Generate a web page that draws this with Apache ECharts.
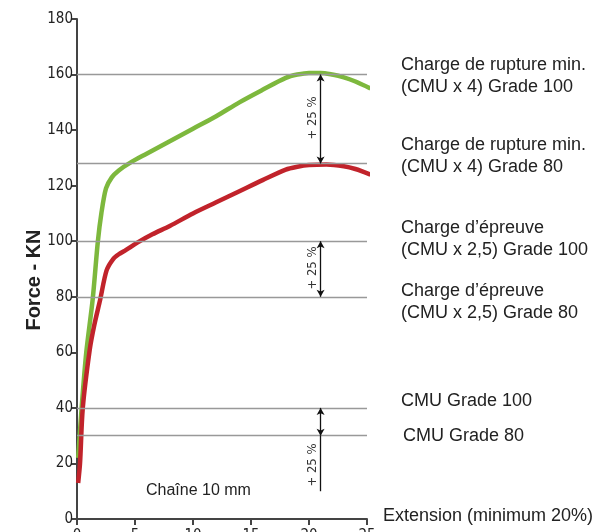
<!DOCTYPE html>
<html><head><meta charset="utf-8">
<script src="https://cdn.jsdelivr.net/npm/echarts@6/dist/echarts.min.js"></script>
<style>html,body{margin:0;padding:0;background:#fff}#c{width:602px;height:532px}</style>
</head><body><div id="c"></div>
<script>
// Extension (%) and force (kN)
const grade100X = [0.1, 0.4, 0.8, 1.35, 1.8, 2.1, 2.5, 3.0, 3.6, 4.6, 6, 8, 10, 12, 14, 16, 18, 19, 20, 21, 22, 23, 24, 25.3];
const grade100Y = [22, 40, 60, 79, 100, 110, 119, 123, 125.5, 128.3, 131.5, 136, 140.5, 145, 150, 154.5, 158.8, 160, 160.6, 160.6, 160, 159, 157.5, 155];
const grade80X = [0.1, 0.26, 0.5, 1.1, 1.5, 2.0, 2.55, 3.1, 3.6, 4.2, 5.2, 6.5, 8, 10, 12, 14, 16, 18, 19, 20, 21.5, 23, 24, 25.3];
const grade80Y = [13, 20, 40, 61, 70, 79, 89.5, 93.5, 95.3, 96.8, 99.5, 102.5, 105.5, 110, 114, 118, 122, 125.8, 126.8, 127.4, 127.6, 127, 126, 124];
const refLevels = [160, 128, 100, 80, 40, 30];
const arrowPairs = [[160, 128], [100, 80], [40, 30]];
const arrowTail = [30, 10];
const arrowX = 21;
const xTicks = [0, 5, 10, 15, 20, 25];
const yTicks = [0, 20, 40, 60, 80, 100, 120, 140, 160, 180];
const rightLabels = [
  'Charge de rupture min.\n(CMU x 4) Grade 100',
  'Charge de rupture min.\n(CMU x 4) Grade 80',
  'Charge d\u2019épreuve\n(CMU x 2,5) Grade 100',
  'Charge d\u2019épreuve\n(CMU x 2,5) Grade 80',
  'CMU Grade 100',
  'CMU Grade 80'
];
const pctLabel = '+ 25 %';

const zip = (a, b) => a.map((v, i) => [v, b[i]]);
const narrow = "'Liberation Sans Narrow', 'DejaVu Sans Condensed', sans-serif";
const sans = "'Liberation Sans', Arial, sans-serif";

const chart = echarts.init(document.getElementById('c'), null, {renderer: 'canvas'});

const labelY = [76, 156, 239, 302, 401, 436];
const graphics = rightLabels.map((t, i) => ({
  type: 'text', left: i === 5 ? 403 : 401, top: labelY[i] - (t.includes('\n') ? 22 : 11),
  style: {text: t, font: '18px ' + sans, fill: '#222', lineHeight: 22}
}));
graphics.push({type: 'text', left: 383, top: 507, style: {text: 'Extension (minimum 20%)', font: '18px ' + sans, fill: '#222'}});
graphics.push({type: 'text', left: 146, top: 483, style: {text: 'Chaîne 10 mm', font: '16px ' + sans, fill: '#222'}});
graphics.push({type: 'text', x: 34, y: 280, rotation: Math.PI / 2, style: {text: 'Force - KN', font: 'bold 20px ' + sans, fill: '#222', align: 'center', verticalAlign: 'middle'}});
[118, 268, 465].forEach(y => graphics.push({type: 'text', x: 313, y: y, rotation: Math.PI / 2,
  style: {text: pctLabel, font: '13px ' + narrow, fill: '#333', align: 'center', verticalAlign: 'middle'}}));

chart.setOption({
  animation: false,
  grid: {left: 77, right: 235, top: 19, bottom: 13, containLabel: false, outerBoundsMode: 'none'},
  xAxis: {
    type: 'value', min: xTicks[0], max: xTicks[xTicks.length - 1], interval: 5,
    axisLine: {show: true, lineStyle: {color: '#444', width: 2}},
    axisTick: {show: true, inside: false, length: 6, lineStyle: {color: '#444', width: 2}},
    axisLabel: {show: true, margin: 10, fontSize: 15, fontFamily: narrow, color: '#222'},
    splitLine: {show: false}
  },
  yAxis: {
    type: 'value', min: yTicks[0], max: yTicks[yTicks.length - 1], interval: 20,
    axisLine: {show: true, lineStyle: {color: '#444', width: 2}},
    axisTick: {show: true, inside: false, length: 6, lineStyle: {color: '#444', width: 2}},
    axisLabel: {show: true, margin: 4, fontSize: 15, fontFamily: narrow, color: '#222'},
    splitLine: {show: false}
  },
  graphic: graphics,
  series: [
    {
      type: 'line', data: [], silent: true,
      markLine: {
        silent: true, symbol: ['none', 'none'], label: {show: false},
        lineStyle: {color: '#999', width: 1.3, type: 'solid'},
        data: refLevels.map(v => [{coord: [xTicks[0], v]}, {coord: [xTicks[xTicks.length - 1], v]}])
      }
    },
    {
      type: 'line', data: [], silent: true,
      markLine: {
        silent: true, symbol: ['arrow', 'arrow'], symbolSize: [6, 7], label: {show: false},
        lineStyle: {color: '#111', width: 1.3, type: 'solid'},
        data: arrowPairs.map(p => [{coord: [arrowX, p[0]]}, {coord: [arrowX, p[1]]}])
          .concat([[{coord: [arrowX, arrowTail[0]], symbol: 'none'}, {coord: [arrowX, arrowTail[1]], symbol: 'none'}]])
      }
    },
    {
      name: 'Grade 100', type: 'line', data: zip(grade100X, grade100Y), smooth: 0.3, symbol: 'none', clip: false,
      lineStyle: {color: '#7db83d', width: 4.5}, z: 3
    },
    {
      name: 'Grade 80', type: 'line', data: zip(grade80X, grade80Y), smooth: 0.3, symbol: 'none', clip: false,
      lineStyle: {color: '#c1232b', width: 4.5}, z: 4
    }
  ]
});
</script>
</body></html>
